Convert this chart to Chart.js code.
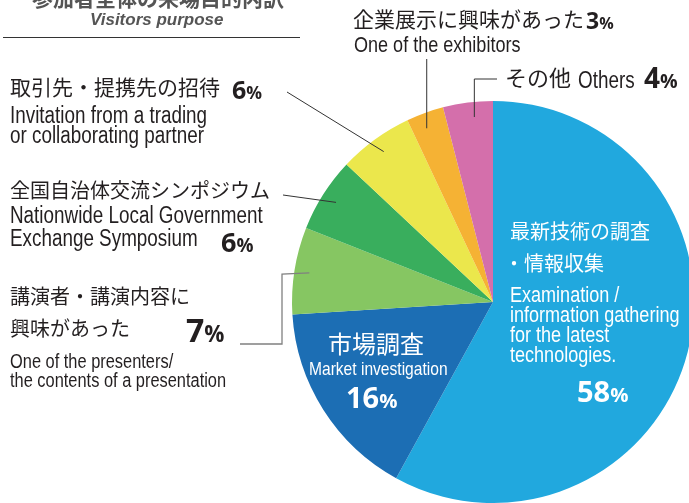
<!DOCTYPE html>
<html>
<head>
<meta charset="utf-8">
<script src="https://cdn.jsdelivr.net/npm/chart.js@4"></script>
<style>
  html, body { margin: 0; padding: 0; }
  body { width: 689px; height: 503px; overflow: hidden; position: relative; background: #fff; }
  #c { position: absolute; left: 0; top: 0; }
  .t { position: absolute; white-space: nowrap; line-height: 1; color: #231f20; }
  .ja { font-family: "Noto Sans CJK JP", sans-serif; }
  /* no narrow face installed, so squeeze Liberation Sans like Arial Narrow */
  .en { font-family: "Liberation Sans", sans-serif; transform: scaleX(0.82); transform-origin: 0 0; }
  .num { font-family: "Open Sans", sans-serif; font-weight: 700; }
  .num small { font-size: 0.7em; }
  .w { color: #fff; }
</style>
</head>
<body>
<canvas id="c" width="694" height="503"></canvas>

<div class="t ja" style="left:32px;top:-13px;font-size:21px;font-weight:700;color:#555">参加者全体の来場目的内訳</div>
<div class="t" style="left:90px;top:11px;font-size:17px;font-weight:700;font-style:italic;color:#555;font-family:'Liberation Sans',sans-serif">Visitors purpose</div>
<div style="position:absolute;left:3px;top:37px;width:297px;border-top:1px solid #333"></div>

<div class="t ja" style="left:353px;top:8px;font-size:21px">企業展示に興味があった</div>
<div class="t num" style="left:586px;top:9px;font-size:23px">3<small>%</small></div>
<div class="t en" style="left:354px;top:34px;font-size:22px">One of the exhibitors</div>

<div class="t ja" style="left:505px;top:65px;font-size:22px">その他</div>
<div class="t en" style="left:578px;top:69px;font-size:23px">Others</div>
<div class="t num" style="left:644px;top:63px;font-size:28px">4<small>%</small></div>

<div class="t ja" style="left:10px;top:76px;font-size:21px">取引先・提携先の招待</div>
<div class="t num" style="left:232px;top:77px;font-size:25px">6<small>%</small></div>
<div class="t en" style="left:10px;top:104px;font-size:23px">Invitation from a trading</div>
<div class="t en" style="left:10px;top:124px;font-size:23px">or collaborating partner</div>

<div class="t ja" style="left:10px;top:180px;font-size:20px">全国自治体交流シンポジウム</div>
<div class="t en" style="left:10px;top:204px;font-size:23px">Nationwide Local Government</div>
<div class="t en" style="left:10px;top:227px;font-size:23px">Exchange Symposium</div>
<div class="t num" style="left:221px;top:228px;font-size:27px">6<small>%</small></div>

<div class="t ja" style="left:10px;top:286px;font-size:20px">講演者・講演内容に</div>
<div class="t ja" style="left:10px;top:318px;font-size:20px">興味があった</div>
<div class="t num" style="left:186px;top:314px;font-size:32px">7<small>%</small></div>
<div class="t en" style="left:10px;top:351px;font-size:20px">One of the presenters/</div>
<div class="t en" style="left:10px;top:370px;font-size:20px">the contents of a presentation</div>

<div class="t ja w" style="left:328px;top:331px;font-size:24px">市場調査</div>
<div class="t en w" style="left:309px;top:359px;font-size:19px">Market investigation</div>
<div class="t num w" style="left:346px;top:382px;font-size:29px">16<small>%</small></div>

<div class="t ja w" style="left:510px;top:221px;font-size:20px">最新技術の調査</div>
<div class="t ja w" style="left:504px;top:253px;font-size:20px">・情報収集</div>
<div class="t en w" style="left:510px;top:284px;font-size:22px">Examination /</div>
<div class="t en w" style="left:510px;top:304px;font-size:22px">information gathering</div>
<div class="t en w" style="left:510px;top:324px;font-size:22px">for the latest</div>
<div class="t en w" style="left:510px;top:344px;font-size:22px">technologies.</div>
<div class="t num w" style="left:577px;top:376px;font-size:29px">58<small>%</small></div>

<script>
const categories = [
  "最新技術の調査・情報収集",
  "市場調査",
  "講演者・講演内容に興味があった",
  "全国自治体交流シンポジウム",
  "取引先・提携先の招待",
  "企業展示に興味があった",
  "その他"
];
const shares = [58, 16, 7, 6, 6, 3, 4];
const colors = ["#21a8de", "#1c6eb4", "#86c662", "#39ae5d", "#ebe74c", "#f5b234", "#d46fab"];

// leader lines: slice index, where in the slice the line starts, and the bend points outside
// x: null means "same x as the anchor" (vertical line)
const leaders = [
  { i: 2, at: 0.5, color: "#808080", width: 1.3, path: [[282, 274], [282, 344], [240, 344]] },
  { i: 3, at: 0.5, color: "#333", width: 1, path: [[283, 195]] },
  { i: 4, at: 0.5, color: "#333", width: 1, path: [[287, 92]] },
  { i: 5, at: 0.4, color: "#333", width: 1, path: [[null, 59]] },
  { i: 6, at: 0.6, color: "#333", width: 1, path: [[null, 79], [497, 79]] }
];

const leaderLines = {
  id: "leaderLines",
  afterDatasetsDraw(chart) {
    const ctx = chart.ctx;
    const arcs = chart.getDatasetMeta(0).data;
    leaders.forEach(l => {
      const a = arcs[l.i];
      const ang = a.startAngle + (a.endAngle - a.startAngle) * l.at;
      const r = a.outerRadius * 0.925;
      const ax = a.x + r * Math.cos(ang);
      const ay = a.y + r * Math.sin(ang);
      ctx.save();
      ctx.strokeStyle = l.color;
      ctx.lineWidth = l.width;
      ctx.beginPath();
      ctx.moveTo(ax, ay);
      l.path.forEach(p => ctx.lineTo(p[0] === null ? ax : p[0], p[1]));
      ctx.stroke();
      ctx.restore();
    });
  }
};

new Chart(document.getElementById("c"), {
  type: "pie",
  data: {
    labels: categories,
    datasets: [{
      data: shares,
      backgroundColor: colors,
      borderWidth: 0
    }]
  },
  options: {
    responsive: false,
    animation: false,
    layout: { padding: { left: 292, top: 101, right: 0, bottom: 0 } },
    plugins: { legend: { display: false }, tooltip: { enabled: false } }
  },
  plugins: [leaderLines]
});
</script>
</body>
</html>
